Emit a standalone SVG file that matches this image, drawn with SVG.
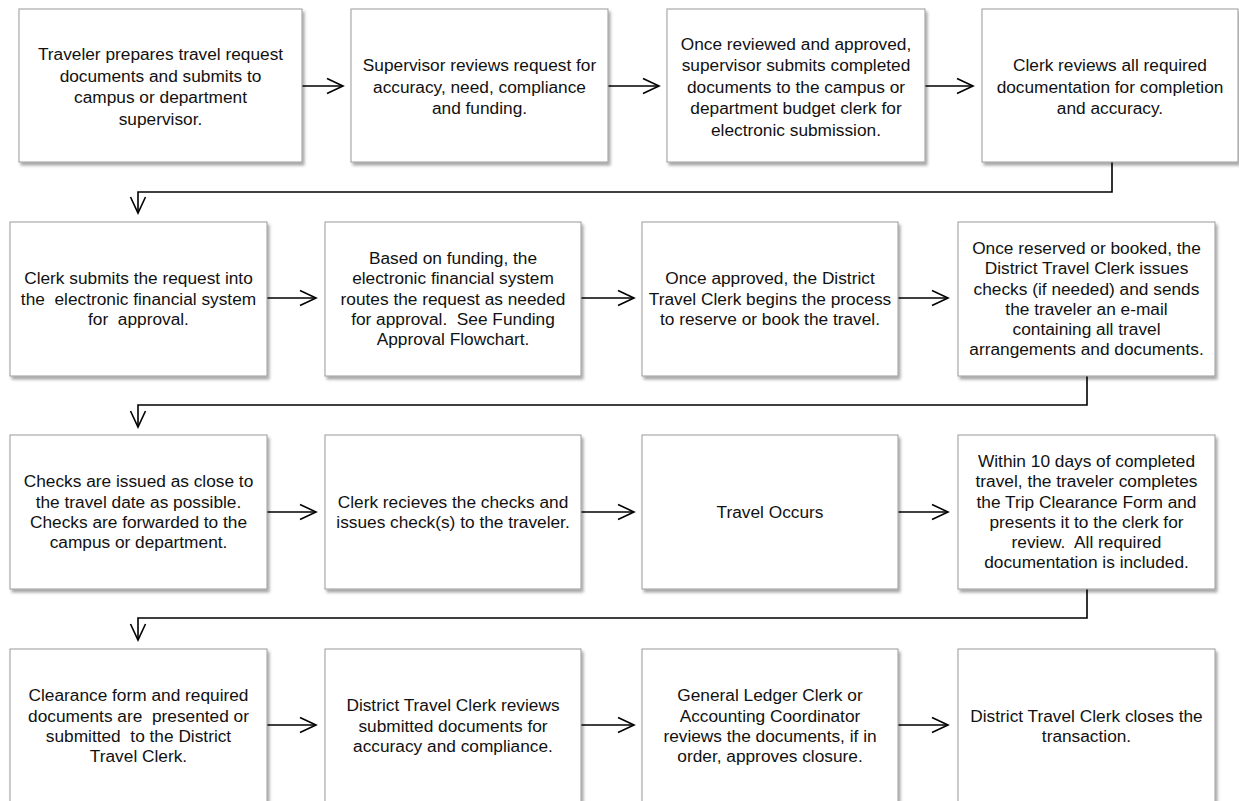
<svg xmlns="http://www.w3.org/2000/svg" width="1239" height="801" viewBox="0 0 1239 801">
<defs>
<style>
.box{fill:#fff;stroke:#9a9a9a;stroke-width:1;filter:url(#sh)}
.t{font-family:"Liberation Sans",Arial,sans-serif;font-size:17.3px;fill:#111;text-anchor:middle;white-space:pre}
.c{fill:none;stroke:#000;stroke-width:1.6;marker-end:url(#ah)}
</style>
<filter id="sh" x="-10%" y="-10%" width="125%" height="130%">
<feDropShadow dx="2" dy="3" stdDeviation="1.8" flood-color="#000" flood-opacity="0.35"/>
</filter>
<marker id="ah" markerUnits="userSpaceOnUse" viewBox="-18 -9 20 18" markerWidth="20" markerHeight="18" refX="0" refY="0" orient="auto" overflow="visible">
<path d="M-16,-7.5 L0,0 L-16,7.5" fill="none" stroke="#000" stroke-width="1.6"/>
</marker>
</defs>

<g id="connectors">
<path class="c" d="M302,86 H343"/>
<path class="c" d="M608,86 H659"/>
<path class="c" d="M925,86 H973"/>
<path class="c" d="M1112,162 V192 H138 V213"/>
<path class="c" d="M267,298 H316"/>
<path class="c" d="M581,298 H634"/>
<path class="c" d="M898,298 H948"/>
<path class="c" d="M1087,376 V405 H138 V427"/>
<path class="c" d="M267,512 H316"/>
<path class="c" d="M581,512 H634"/>
<path class="c" d="M898,512 H948"/>
<path class="c" d="M1087,589 V618 H138 V640"/>
<path class="c" d="M267,725 H316"/>
<path class="c" d="M581,725 H634"/>
<path class="c" d="M898,725 H948"/>
</g>

<g id="n1"><rect class="box" x="19" y="9" width="283" height="153"/>
<text class="t" x="160.5" y="60">Traveler prepares travel request</text>
<text class="t" x="160.5" y="82">documents and submits to</text>
<text class="t" x="160.5" y="103">campus or department</text>
<text class="t" x="160.5" y="125">supervisor.</text></g>

<g id="n2"><rect class="box" x="351" y="9" width="257" height="153"/>
<text class="t" x="479.5" y="71">Supervisor reviews request for</text>
<text class="t" x="479.5" y="92.5">accuracy, need, compliance</text>
<text class="t" x="479.5" y="114">and funding.</text></g>

<g id="n3"><rect class="box" x="667" y="9" width="258" height="153"/>
<text class="t" x="796" y="49.5">Once reviewed and approved,</text>
<text class="t" x="796" y="71">supervisor submits completed</text>
<text class="t" x="796" y="92.5">documents to the campus or</text>
<text class="t" x="796" y="114">department budget clerk for</text>
<text class="t" x="796" y="135.5">electronic submission.</text></g>

<g id="n4"><rect class="box" x="982" y="9" width="256" height="153"/>
<text class="t" x="1110" y="71">Clerk reviews all required</text>
<text class="t" x="1110" y="92.5">documentation for completion</text>
<text class="t" x="1110" y="114">and accuracy.</text></g>

<g id="n5"><rect class="box" x="10" y="222" width="257" height="154"/>
<text class="t" x="138.5" y="284">Clerk submits the request into</text>
<text class="t" x="138.5" y="304.5">the  electronic financial system</text>
<text class="t" x="138.5" y="325">for  approval.</text></g>

<g id="n6"><rect class="box" x="325" y="222" width="256" height="154"/>
<text class="t" x="453" y="264">Based on funding, the</text>
<text class="t" x="453" y="284">electronic financial system</text>
<text class="t" x="453" y="304.5">routes the request as needed</text>
<text class="t" x="453" y="325">for approval.  See Funding</text>
<text class="t" x="453" y="345">Approval Flowchart.</text></g>

<g id="n7"><rect class="box" x="642" y="222" width="256" height="154"/>
<text class="t" x="770" y="284">Once approved, the District</text>
<text class="t" x="770" y="304.5">Travel Clerk begins the process</text>
<text class="t" x="770" y="325">to reserve or book the travel.</text></g>

<g id="n8"><rect class="box" x="958" y="222" width="257" height="154"/>
<text class="t" x="1086.5" y="254">Once reserved or booked, the</text>
<text class="t" x="1086.5" y="274">District Travel Clerk issues</text>
<text class="t" x="1086.5" y="294.5">checks (if needed) and sends</text>
<text class="t" x="1086.5" y="314.5">the traveler an e-mail</text>
<text class="t" x="1086.5" y="335">containing all travel</text>
<text class="t" x="1086.5" y="355">arrangements and documents.</text></g>

<g id="n9"><rect class="box" x="10" y="435" width="257" height="154"/>
<text class="t" x="138.5" y="487">Checks are issued as close to</text>
<text class="t" x="138.5" y="507.5">the travel date as possible.</text>
<text class="t" x="138.5" y="527.5">Checks are forwarded to the</text>
<text class="t" x="138.5" y="548">campus or department.</text></g>

<g id="n10"><rect class="box" x="325" y="435" width="256" height="154"/>
<text class="t" x="453" y="507.5">Clerk recieves the checks and</text>
<text class="t" x="453" y="527.5">issues check(s) to the traveler.</text></g>

<g id="n11"><rect class="box" x="642" y="435" width="256" height="154"/>
<text class="t" x="770" y="517.5">Travel Occurs</text></g>

<g id="n12"><rect class="box" x="958" y="435" width="257" height="154"/>
<text class="t" x="1086.5" y="467">Within 10 days of completed</text>
<text class="t" x="1086.5" y="487">travel, the traveler completes</text>
<text class="t" x="1086.5" y="507.5">the Trip Clearance Form and</text>
<text class="t" x="1086.5" y="527.5">presents it to the clerk for</text>
<text class="t" x="1086.5" y="548">review.  All required</text>
<text class="t" x="1086.5" y="568">documentation is included.</text></g>

<g id="n13"><rect class="box" x="10" y="649" width="257" height="154"/>
<text class="t" x="138.5" y="701">Clearance form and required</text>
<text class="t" x="138.5" y="721.5">documents are  presented or</text>
<text class="t" x="138.5" y="741.5">submitted  to the District</text>
<text class="t" x="138.5" y="762">Travel Clerk.</text></g>

<g id="n14"><rect class="box" x="325" y="649" width="256" height="154"/>
<text class="t" x="453" y="711">District Travel Clerk reviews</text>
<text class="t" x="453" y="731.5">submitted documents for</text>
<text class="t" x="453" y="752">accuracy and compliance.</text></g>

<g id="n15"><rect class="box" x="642" y="649" width="256" height="154"/>
<text class="t" x="770" y="701">General Ledger Clerk or</text>
<text class="t" x="770" y="721.5">Accounting Coordinator</text>
<text class="t" x="770" y="741.5">reviews the documents, if in</text>
<text class="t" x="770" y="762">order, approves closure.</text></g>

<g id="n16"><rect class="box" x="958" y="649" width="257" height="154"/>
<text class="t" x="1086.5" y="721.5">District Travel Clerk closes the</text>
<text class="t" x="1086.5" y="741.5">transaction.</text></g>
</svg>
